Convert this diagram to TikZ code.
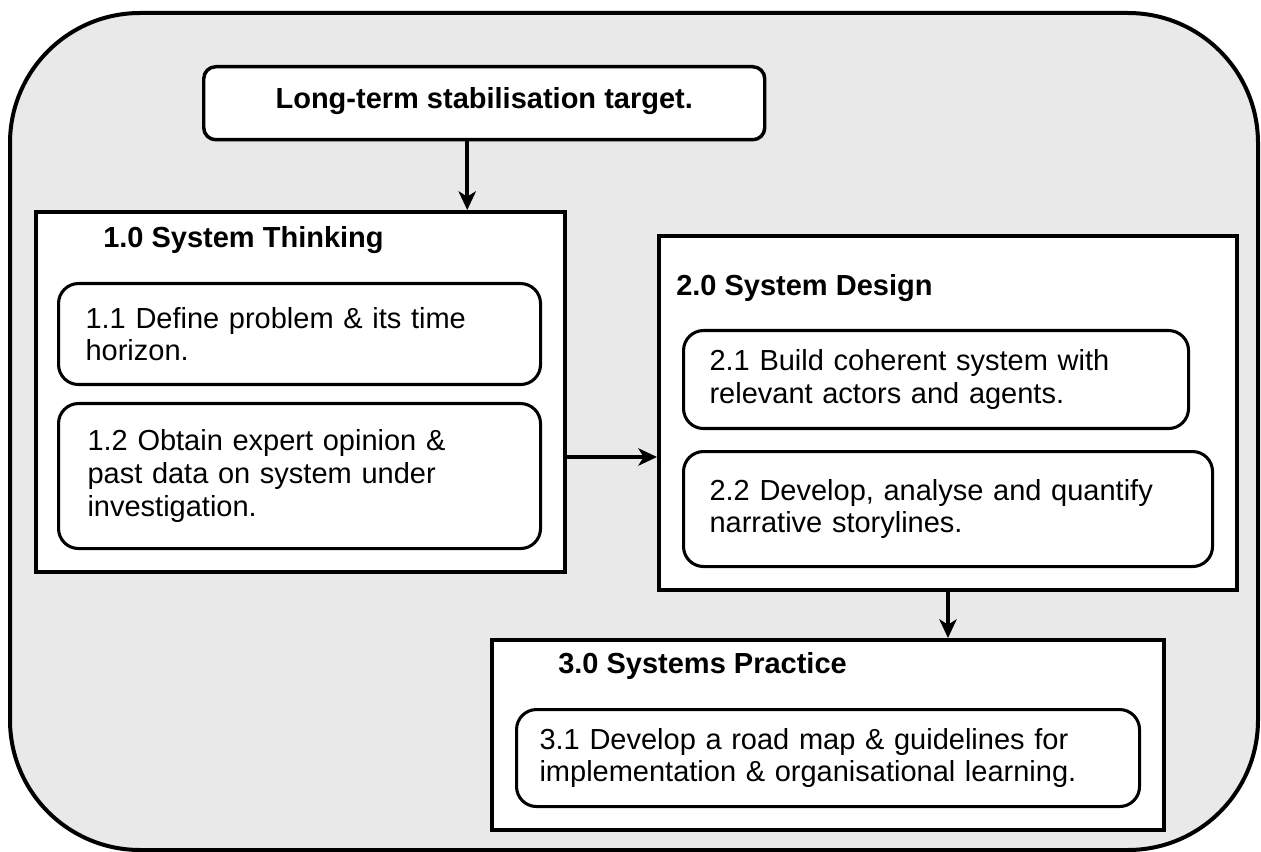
\documentclass[tikz,border=0pt]{standalone}
\usepackage{fontspec}
\setmainfont{Liberation Sans}
\usetikzlibrary{arrows.meta, positioning}

\begin{document}
\begin{tikzpicture}[
    x=0.75pt, y=-0.75pt,
    frame/.style={draw, line width=3pt, fill=gray!17, rounded corners=97.5pt},
    goal/.style={rectangle, draw, line width=2.6pt, fill=white, rounded corners=9pt,
                 anchor=north west, minimum width=420.75pt, minimum height=54.75pt,
                 text depth=8pt, font=\fontsize{21.75pt}{24.4pt}\selectfont\bfseries},
    stage/.style={rectangle, draw, line width=3pt, fill=white, anchor=north west},
    title/.style={anchor=base west, inner sep=0pt,
                  font=\fontsize{21.75pt}{24.4pt}\selectfont\bfseries},
    task/.style={rectangle, draw, line width=2.3pt, rounded corners=15pt, fill=white,
                 anchor=north west, align=left, inner ysep=0pt,
                 font=\fontsize{21.75pt}{24.4pt}\selectfont},
    arr/.style={-{Stealth[length=14pt, width=13pt, inset=4pt]}, line width=3pt},
]
    \useasboundingbox (0,0) rectangle (1261,852);
    \draw[frame] (10,13) rectangle (1258,850);

    \node[goal] (goal) at (202,65) {Long-term stabilisation target.};

    % 1.0 System Thinking
    \node[stage, minimum width=396.75pt, minimum height=270pt] (thinking) at (34,210) {};
    \node[title] (thinkingT) at (103,248) {1.0 System Thinking};
    \node[task, minimum width=361.5pt, minimum height=75.75pt, inner xsep=20.25pt,
          text width=321pt] (define) at (57,282) {1.1 Define problem \& its time\\horizon.};
    \node[task, minimum width=361.5pt, minimum height=108.75pt, inner xsep=21.75pt,
          text width=318pt] (obtain) at (57,402)
          {1.2 Obtain expert opinion \&\\past data on system under\\investigation.};

    % 2.0 System Design
    \node[stage, minimum width=433.5pt, minimum height=265.5pt] (design) at (657,234) {};
    \node[title] (designT) at (676,296) {2.0 System Design};
    \node[task, minimum width=378.75pt, minimum height=73.5pt, inner xsep=19.5pt,
          text width=339.75pt] (build) at (682,329)
          {2.1 Build coherent system with\\relevant actors and agents.};
    \node[task, minimum width=396.75pt, minimum height=86.25pt, inner xsep=19.5pt,
          text width=357.75pt] (develop) at (682,450)
          {2.2 Develop, analyse and quantify\\narrative storylines.};

    % 3.0 Systems Practice
    \node[stage, minimum width=504pt, minimum height=142.5pt] (practice) at (490,638) {};
    \node[title] (practiceT) at (558,673) {3.0 Systems Practice};
    \node[task, minimum width=467.25pt, minimum height=72.75pt, inner xsep=17.25pt,
          text width=432.75pt] (roadmap) at (515,708)
          {3.1 Develop a road map \& guidelines for\\implementation \& organisational learning.};

    \draw[arr] ([xshift=-12.75pt]goal.south) coordinate (g1) -- (g1 |- thinking.north);
    \draw[arr] ([yshift=-48.75pt]thinking.east) coordinate (t1) -- (t1 -| design.west);
    \draw[arr] (design.south) -- (design.south |- practice.north);
\end{tikzpicture}
\end{document}
